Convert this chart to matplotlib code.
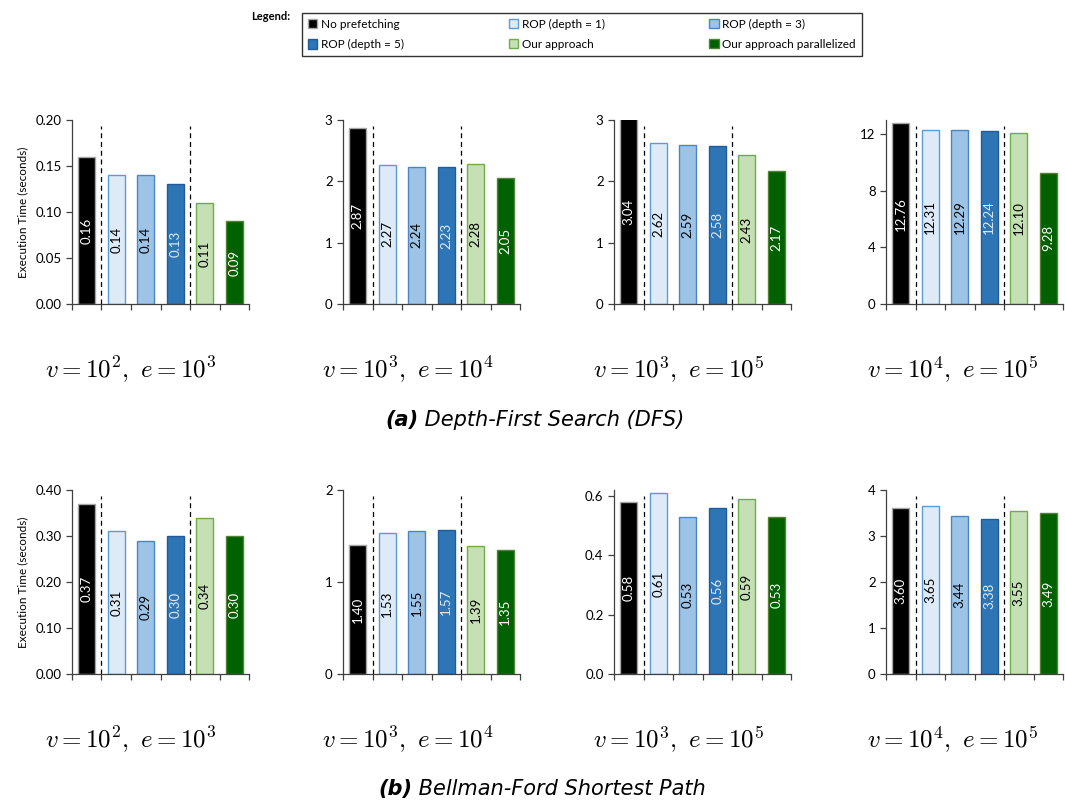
import matplotlib
matplotlib.use("Agg")
import matplotlib.pyplot as plt
from matplotlib.patches import Patch

plt.rcParams["font.family"] = ["Lato", "DejaVu Sans"]
plt.rcParams["mathtext.fontset"] = "cm"

series = ["No prefetching", "ROP (depth = 1)", "ROP (depth = 3)",
          "ROP (depth = 5)", "Our approach", "Our approach parallelized"]
fills = ["#000000", "#DEEBF7", "#9DC3E6", "#2E75B6", "#C5E0B4", "#006100"]
edges = ["#A6A6A6", "#5B9BD5", "#4A86C5", "#1F5C99", "#70AD47", "#548235"]
text_colors = ["white", "black", "black", "#DDEBF7", "black", "white"]

configs = [r"$v=10^2,\ e=10^3$", r"$v=10^3,\ e=10^4$",
           r"$v=10^3,\ e=10^5$", r"$v=10^4,\ e=10^5$"]

dfs_times = [
    [0.16, 0.14, 0.14, 0.13, 0.11, 0.09],
    [2.87, 2.27, 2.24, 2.23, 2.28, 2.05],
    [3.04, 2.62, 2.59, 2.58, 2.43, 2.17],
    [12.76, 12.31, 12.29, 12.24, 12.10, 9.28],
]
bf_times = [
    [0.37, 0.31, 0.29, 0.30, 0.34, 0.30],
    [1.40, 1.53, 1.55, 1.57, 1.39, 1.35],
    [0.58, 0.61, 0.53, 0.56, 0.59, 0.53],
    [3.60, 3.65, 3.44, 3.38, 3.55, 3.49],
]
dfs_ylims = [0.20, 3, 3, 13]
dfs_yticks = [[0, 0.05, 0.10, 0.15, 0.20], [0, 1, 2, 3], [0, 1, 2, 3], [0, 4, 8, 12]]
dfs_fmt = ["{:.2f}", "{:.0f}", "{:.0f}", "{:.0f}"]
bf_ylims = [0.40, 2, 0.62, 4]
bf_yticks = [[0, 0.10, 0.20, 0.30, 0.40], [0, 1, 2], [0, 0.2, 0.4, 0.6], [0, 1, 2, 3, 4]]
bf_fmt = ["{:.2f}", "{:.0f}", "{:.1f}", "{:.0f}"]

W, H = 1065, 807
fig = plt.figure(figsize=(W / 100, H / 100), dpi=100)
renderer = fig.canvas.get_renderer()

lefts = [72, 343, 614, 886]
label_x = [131, 408, 679, 953]


def caption_text(cx_px, cy_px, tag, rest):
    # bold-italic tag followed by italic text, centred as one line
    size = 15
    t1 = fig.text(0, 1 - cy_px / H, tag, fontsize=size, style="italic",
                  fontweight="bold", family="DejaVu Sans", va="center")
    t2 = fig.text(0, 1 - cy_px / H, " " + rest, fontsize=size, style="italic",
                  family="DejaVu Sans", va="center")
    w1 = t1.get_window_extent(renderer).width
    w2 = t2.get_window_extent(renderer).width
    x0 = cx_px - (w1 + w2) / 2
    t1.set_x(x0 / W)
    t2.set_x((x0 + w1) / W)


def draw_row(top_px, times, ylims, yticks, fmts, label_y):
    for i in range(4):
        ax = fig.add_axes([lefts[i] / W, 1 - (top_px + 184) / H, 177 / W, 184 / H])
        vals = times[i]
        ymax = ylims[i]
        for j, v in enumerate(vals):
            ax.bar(j + 0.5, v, width=0.57, color=fills[j], edgecolor=edges[j],
                   linewidth=1.0, zorder=2)
            ax.text(j + 0.5, min(v, ymax) / 2, f"{v:.2f}", rotation=90,
                    ha="center", va="center", fontsize=9.5,
                    color=text_colors[j], zorder=3)
        for xb in (1, 4):
            ax.axvline(xb, ymin=0, ymax=0.97, color="black", ls=(0, (4, 3)),
                       lw=0.9, zorder=1)
        ax.set_xlim(0, 6)
        ax.set_ylim(0, ymax)
        ax.set_xticks(range(7))
        ax.set_xticklabels([])
        ax.set_yticks(yticks[i])
        ax.set_yticklabels([fmts[i].format(t) for t in yticks[i]], fontsize=9.5)
        ax.tick_params(direction="out", length=4, width=0.9, color="#404040")
        for s in ("top", "right"):
            ax.spines[s].set_visible(False)
        for s in ("left", "bottom"):
            ax.spines[s].set_color("#404040")
            ax.spines[s].set_linewidth(0.9)
        if i == 0:
            ax.set_ylabel("Execution Time (seconds)", fontsize=8.5, labelpad=5)
        fig.text(label_x[i] / W, 1 - label_y / H, configs[i], ha="center",
                 va="center", fontsize=18)


draw_row(120, dfs_times, dfs_ylims, dfs_yticks, dfs_fmt, 370)
draw_row(490, bf_times, bf_ylims, bf_yticks, bf_fmt, 740)
caption_text(535, 420, "(a)", "Depth-First Search (DFS)")
caption_text(542, 789, "(b)", "Bellman-Ford Shortest Path")

handles = [Patch(facecolor=fills[k], edgecolor=edges[k], label=series[k]) for k in range(6)]
order = [0, 3, 1, 4, 2, 5]
fig.legend([handles[k] for k in order], [series[k] for k in order], ncol=3,
           loc="lower left", mode="expand",
           bbox_to_anchor=(302 / W, 1 - 56 / H, 560 / W, 53 / H),
           fontsize=8.5, frameon=True, fancybox=False, edgecolor="black",
           handlelength=0.8, handleheight=0.8, handletextpad=0.3,
           borderaxespad=0, labelspacing=0.8, borderpad=0.5)
fig.text(290 / W, 1 - 16 / H, "Legend:", ha="right", va="center",
         fontsize=8, fontweight="bold")

fig.savefig("out.png", dpi=100)
